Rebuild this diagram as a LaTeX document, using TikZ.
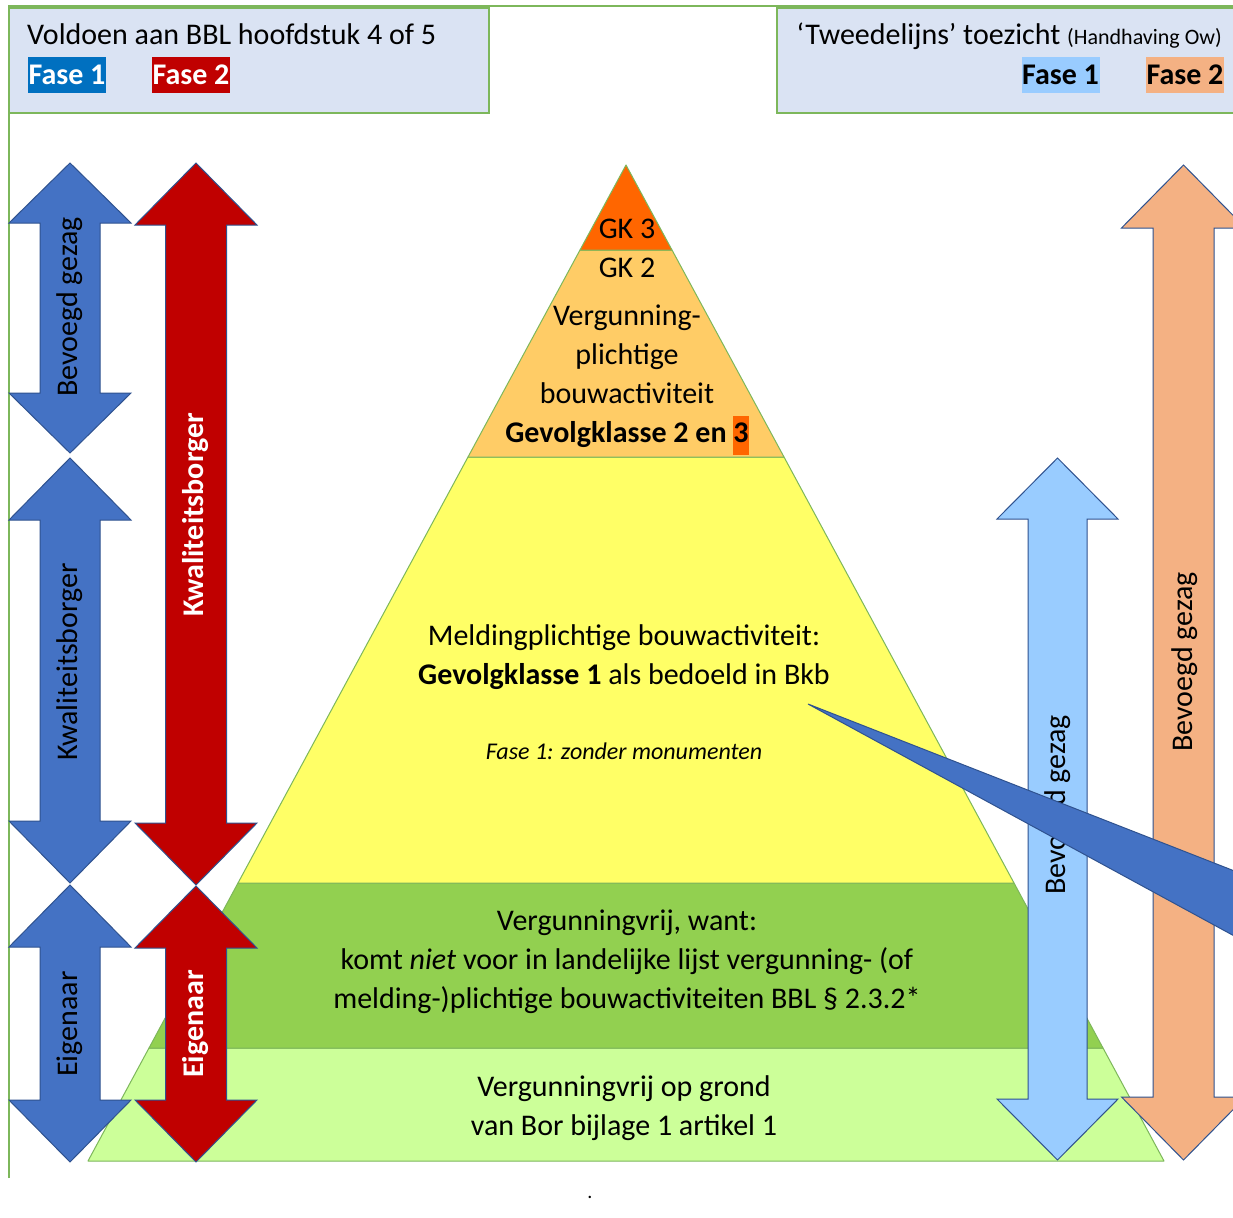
\documentclass[tikz,border=0pt]{standalone}
\usepackage{fontspec}
\setmainfont{Carlito}
\definecolor{framegreen}{HTML}{7DB75B}
\definecolor{hdrfill}{HTML}{DAE3F3}
\definecolor{arrblue}{HTML}{4472C4}
\definecolor{arrline}{HTML}{2F528F}
\definecolor{arrred}{HTML}{C00000}
\definecolor{arrlblue}{HTML}{99CCFF}
\definecolor{arrorange}{HTML}{F4B183}
\definecolor{fase1blue}{HTML}{0070C0}
\definecolor{gkthree}{HTML}{FF6600}
\definecolor{gktwo}{HTML}{FFCC66}
\definecolor{gkone}{HTML}{FFFF66}
\definecolor{vrijgreen}{HTML}{92D050}
\definecolor{borgreen}{HTML}{CCFF99}
\newcommand\dblarr[7]{%
  \path[#1] (#2,#3) -- (#2+#5,#3+#7) -- (#2+#6,#3+#7) -- (#2+#6,#4-#7) -- (#2+#5,#4-#7)
    -- (#2,#4) -- (#2-#5,#4-#7) -- (#2-#6,#4-#7) -- (#2-#6,#3+#7) -- (#2-#5,#3+#7) -- cycle;}
\begin{document}
\begin{tikzpicture}[x=1pt,y=-1pt,
  frameline/.style={draw=framegreen,line width=1.6pt},
  hdrbox/.style={fill=hdrfill,draw=framegreen,line width=1.6pt},
  layer/.style={draw=framegreen,line width=1pt,line join=round},
  blockarr/.style={draw=arrline,line width=1pt,line join=miter},
  txt/.style={font=\fontsize{30}{39}\selectfont,inner sep=0pt,align=center},
  smalltxt/.style={font=\fontsize{24}{28}\selectfont\itshape,inner sep=0pt},
  vtxt/.style={txt,rotate=90},
  fasebox/.style={font=\fontsize{30}{36}\selectfont\bfseries,inner sep=0pt,minimum width=78pt,minimum height=36pt}]
\useasboundingbox (0,0) rectangle (1233,1217);
\clip (0,0) rectangle (1233,1217);
\fill[white] (0,0) rectangle (1233,1217);
% outer frame
\draw[frameline] (9,1178) -- (9,6) -- (1240,6);
% headers
\path[hdrbox] (9,8) rectangle (489,113);
\path[hdrbox] (777,8) rectangle (1245,113);
\node[txt,anchor=base west] (hl) at (27,45) {Voldoen aan BBL hoofdstuk 4 of 5};
\node[fasebox,fill=fase1blue,text=white] (hf1) at (67,75) {Fase 1};
\node[fasebox,fill=arrred,text=white] (hf2) at (191,75) {Fase 2};
\node[txt,anchor=base east] (hr) at (1222,45) {‘Tweedelijns’ toezicht {\fontsize{22}{26}\selectfont (Handhaving Ow)}};
\node[fasebox,fill=arrlblue] (hr1) at (1060.5,75) {Fase 1};
\node[fasebox,fill=arrorange] (hr2) at (1185,75) {Fase 2};
% pyramid layers
\path[layer,fill=borgreen] (149,1048) -- (1103,1048) -- (1164,1161) -- (88,1161) -- cycle;
\path[layer,fill=vrijgreen] (238,883) -- (1014,883) -- (1103,1048) -- (149,1048) -- cycle;
\path[layer,fill=gkone] (468,457) -- (784,457) -- (1014,883) -- (238,883) -- cycle;
\path[layer,fill=gktwo] (580,250) -- (672,250) -- (784,457) -- (468,457) -- cycle;
\path[layer,fill=gkthree] (626,165) -- (672,250) -- (580,250) -- cycle;
% pyramid texts
\node[txt] (gk3) at (627,229) {GK 3};
\node[txt] (gk2) at (627,268) {GK 2};
\node[txt] (verg) at (627,380) {Vergunning-\\plichtige\\bouwactiviteit\\\textbf{Gevolgklasse 2 en {\setlength{\fboxsep}{0pt}\colorbox{gkthree}{\strut 3}}}};
\node[txt] (meld) at (624,657) {Meldingplichtige bouwactiviteit:\\\textbf{Gevolgklasse 1} als bedoeld in Bkb};
\node[smalltxt] (fase) at (624,751) {Fase 1: zonder monumenten};
\node[txt] (vrij) at (627,962) {Vergunningvrij, want:\\komt \emph{niet} voor in landelijke lijst vergunning- (of\\melding-)plichtige bouwactiviteiten BBL § 2.3.2*};
\node[txt] (bor) at (624,1108) {Vergunningvrij op grond\\van Bor bijlage 1 artikel 1};
\node[font=\fontsize{20}{24}\selectfont,inner sep=0pt] (dot) at (590,1197) {.};
% left arrows
\dblarr{blockarr,fill=arrblue}{70}{163}{453}{61}{30}{60}
\dblarr{blockarr,fill=arrblue}{70}{458}{883}{61}{30}{62}
\dblarr{blockarr,fill=arrblue}{70}{885}{1162}{61}{30}{62}
\dblarr{blockarr,fill=arrred}{196}{163}{885}{61}{30.5}{62}
\dblarr{blockarr,fill=arrred}{196}{886}{1162}{61}{30.5}{62}
\node[vtxt] (lb1) at (70,307) {Bevoegd gezag};
\node[vtxt] (lb2) at (70,662) {Kwaliteitsborger};
\node[vtxt] (lb3) at (70,1024) {Eigenaar};
\node[vtxt,text=white,font=\fontsize{30}{39}\selectfont\bfseries] (lr1) at (196,515) {Kwaliteitsborger};
\node[vtxt,text=white,font=\fontsize{30}{39}\selectfont\bfseries] (lr2) at (196,1024) {Eigenaar};
% right arrows
\dblarr{blockarr,fill=arrlblue}{1057.5}{458}{1160}{60.5}{29.5}{61}
\dblarr{blockarr,fill=arrorange}{1183.5}{165}{1160}{62}{30.5}{63}
\node[vtxt] (rb1) at (1057.5,805) {Bevoegd gezag};
\node[vtxt] (rb2) at (1185,662) {Bevoegd gezag};
% callout wedge
\coordinate (wtip) at (808,704);
\coordinate (wtop) at (1260,881);
\coordinate (wbot) at (1260,950);
\path[blockarr,fill=arrblue] (wtip) -- (wtop) -- (wbot) -- cycle;
\end{tikzpicture}
\end{document}
